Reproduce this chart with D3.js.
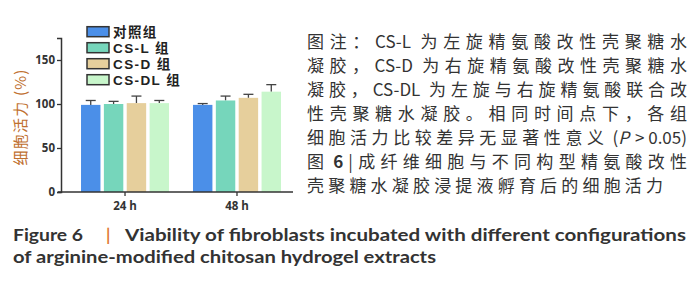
<!DOCTYPE html>
<html><head><meta charset="utf-8">
<script src="https://cdn.jsdelivr.net/npm/d3@7/dist/d3.min.js"></script>
<style>body{margin:0;background:#fff}svg{display:block}</style>
</head><body>
<svg id="c" width="700" height="282"></svg>
<script>
const groups = ["24 h", "48 h"];
const series = ["对照组", "CS-L 组", "CS-D 组", "CS-DL 组"];
const means = [[99, 100, 101, 101], [99, 104, 107, 114]];
const errs = [[5, 3, 8, 3], [1.5, 5, 4, 8]];
const yTicks = [0, 50, 100, 150];
const colors = ["#4b8fe8", "#76d6bb", "#e6cf9c", "#c8f6cb"];
const yLabel = "细胞活力 (%)";
const noteLines = [
  "图注：CS-L 为左旋精氨酸改性壳聚糖水",
  "凝胶，CS-D 为右旋精氨酸改性壳聚糖水",
  "凝胶，CS-DL 为左旋与右旋精氨酸联合改",
  "性壳聚糖水凝胶。相同时间点下，各组",
  "细胞活力比较差异无显著性意义 (P > 0.05)",
  "图 6 | 成纤维细胞与不同构型精氨酸改性",
  "壳聚糖水凝胶浸提液孵育后的细胞活力"
];
const captionLabel = "Figure 6";
const captionLines = [
  "Viability of fibroblasts incubated with different configurations",
  "of arginine-modified chitosan hydrogel extracts"
];

const svg = d3.select("#c");
const mLeft = 61, mRight = 293, mTop = 38, mBottom = 192;

const y = d3.scaleLinear().domain([0, 175]).range([mBottom, mTop]);
const x0 = d3.scaleBand().domain(groups).range([mLeft, mRight])
  .paddingInner(0.214).paddingOuter(0.143).align(0.625);
const x1 = d3.scaleBand().domain(series).range([0, x0.bandwidth()]).paddingInner(0.15);

// bars
const g = svg.append("g");
groups.forEach((grp, gi) => {
  series.forEach((s, si) => {
    const bx = x0(grp) + x1(s);
    const v = means[gi][si], e = errs[gi][si];
    const cx = bx + x1.bandwidth() / 2;
    g.append("line").attr("x1", cx).attr("x2", cx)
      .attr("y1", y(v)).attr("y2", y(v + e))
      .attr("stroke", "#444").attr("stroke-width", 1.3);
    g.append("line").attr("x1", cx - 5).attr("x2", cx + 5)
      .attr("y1", y(v + e)).attr("y2", y(v + e))
      .attr("stroke", "#444").attr("stroke-width", 1.3);
    g.append("rect").attr("x", bx).attr("y", y(v))
      .attr("width", x1.bandwidth()).attr("height", y(0) - y(v))
      .attr("fill", colors[si]);
  });
});

// y axis
const ya = svg.append("g").attr("transform", `translate(${mLeft},0)`)
  .call(d3.axisLeft(y).tickValues(yTicks).tickSize(4).tickPadding(2));
ya.select(".domain").attr("stroke", "#333").attr("stroke-width", 1.5);
ya.selectAll(".tick line").attr("stroke", "#333").attr("stroke-width", 1.3);
ya.selectAll("text").attr("font-family", "Open Sans, sans-serif").attr("font-weight", "bold")
  .attr("font-size", 11.5).attr("fill", "#333");

// x axis
const xa = svg.append("g").attr("transform", `translate(0,${mBottom})`)
  .call(d3.axisBottom(x0).tickSize(4).tickPadding(6).tickSizeOuter(0));
xa.select(".domain").attr("d", `M${mLeft - 3},0H${mRight}`).attr("stroke", "#333").attr("stroke-width", 1.5);
xa.selectAll(".tick line").attr("stroke", "#333").attr("stroke-width", 1.3);
xa.selectAll("text").attr("font-family", "Open Sans, sans-serif").attr("font-weight", "bold")
  .attr("font-size", 11.5).attr("fill", "#333");

// y label
svg.append("text").attr("transform", "translate(26,117) rotate(-90)")
  .attr("text-anchor", "middle").attr("font-family", "Noto Sans CJK SC")
  .attr("font-size", 15).attr("letter-spacing", 1.2).attr("fill", "#c0702f").text(yLabel);

// legend
const lg = svg.append("g");
series.forEach((s, i) => {
  const cy = 31.7 + i * 16;
  lg.append("rect").attr("x", 87).attr("y", cy - 5).attr("width", 22).attr("height", 10)
    .attr("fill", colors[i]).attr("stroke", "#333").attr("stroke-width", 1.5);
  lg.append("text").attr("x", 113).attr("y", cy + 5)
    .attr("font-family", "Liberation Sans, Noto Sans CJK SC").attr("font-weight", "bold")
    .attr("font-size", 13.5).attr("letter-spacing", 1.4).attr("fill", "#222").text(s);
});

// note block: justified lines built from separately positioned pieces
const NB = "\u00A0";
const isCJK = c => /[\u3000-\u303f\u4e00-\u9fff\uff00-\uffef]/.test(c);
const nb = svg.append("g").attr("font-family", "Noto Sans CJK SC")
  .attr("font-size", 17).attr("fill", "#333");
noteLines.forEach((t, i) => {
  const baseY = 47.5 + i * 24;
  const segs = [];
  let buf = "";
  for (const ch of t) {
    if (isCJK(ch)) { if (buf) { segs.push(buf); buf = ""; } segs.push(ch); }
    else buf += ch;
  }
  if (buf) segs.push(buf);
  // each unit: list of pieces {txt, italic, bold, gap}
  const units = segs.map(sg => {
    if (sg.includes("P >")) {
      const parts = sg.split("P");
      return [{ txt: parts[0].trim(), gap: 4 },
              { txt: "P", italic: true },
              { txt: parts[1].trim(), gap: 5 }];
    }
    if (i === 5 && sg.includes("6")) {
      return [{ txt: "6", bold: true, gap: 4 }, { txt: "|", gap: 5 }];
    }
    return [{ txt: sg.replace(/ /g, NB) }];
  });
  let total = 0;
  const made = units.map(u => u.map(p => {
    const el = nb.append("text").attr("y", baseY).text(p.txt);
    if (p.italic) el.attr("font-style", "italic");
    if (p.bold) el.attr("font-weight", "bold");
    const w = el.node().getComputedTextLength() + (p.italic ? 1 : 0);
    const gap = p.gap || 0;
    total += w + gap;
    return { el, w, gap };
  }));
  const target = i < 6 ? 380 : 356;
  const extra = Math.max(0, target - total) / Math.max(1, units.length - 1);
  let cx = 307;
  made.forEach(u => {
    u.forEach(p => { cx += p.gap; p.el.attr("x", cx); cx += p.w; });
    cx += extra;
  });
});

// caption
const capFont = sel => sel.attr("font-family", "Lato, sans-serif").attr("font-weight", "bold")
  .attr("font-size", 17).attr("fill", "#333");
svg.append("text").attr("x", 13).attr("y", 241).attr("textLength", 70)
  .attr("lengthAdjust", "spacingAndGlyphs").call(capFont).text(captionLabel);
svg.append("text").attr("x", 106).attr("y", 241).call(capFont).attr("fill", "#e07b39").text("|");
svg.append("text").attr("x", 125).attr("y", 241).attr("textLength", 561)
  .attr("lengthAdjust", "spacingAndGlyphs").call(capFont).text(captionLines[0]);
svg.append("text").attr("x", 13).attr("y", 263).attr("textLength", 423)
  .attr("lengthAdjust", "spacingAndGlyphs").call(capFont).text(captionLines[1]);
</script>
</body></html>
